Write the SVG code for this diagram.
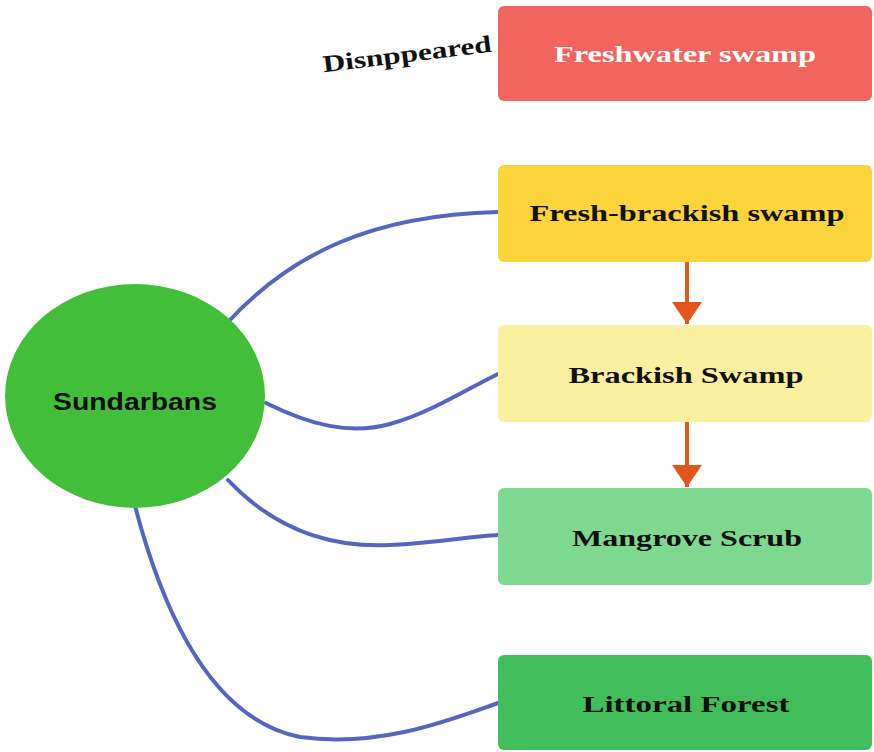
<svg xmlns="http://www.w3.org/2000/svg" width="874" height="752" viewBox="0 0 874 752">
<style>
.box{stroke:none}
.lbl{font-family:"Liberation Serif","Times New Roman",serif;font-weight:bold;font-size:24px;text-anchor:middle}
.conn{fill:none;stroke:#5566c2;stroke-width:4;stroke-linecap:round}
.arr{stroke:#e2561c;stroke-width:4;fill:none}
</style>
<defs>
<marker id="ah" markerWidth="6" markerHeight="8" refX="5.5" refY="3.75" orient="auto" markerUnits="strokeWidth">
<path d="M0,0 L5.5,3.75 L0,7.5 Z" fill="#e2561c"/>
</marker>
</defs>
<rect width="874" height="752" fill="#ffffff"/>
<g id="connectors">
<path class="conn" d="M228,322 C290,255 370,215 498,212"/>
<path class="conn" d="M266,403 C310,425 350,435 390,424 C430,413 465,390 498,374"/>
<path class="conn" d="M228,480 C275,530 330,548 390,545 C440,543 470,536 498,535"/>
<path class="conn" d="M135,506 C165,620 215,720 300,737 C380,748 450,720 498,703"/>
<path class="arr" d="M687,262 L687,324" marker-end="url(#ah)"/>
<path class="arr" d="M687,422 L687,487" marker-end="url(#ah)"/>
</g>
<g id="sundarbans">
<ellipse cx="135" cy="396" rx="130" ry="112" fill="#43be3b"/>
<text x="135" y="410" font-family="Liberation Sans, Arial, sans-serif" font-weight="bold" font-size="24" text-anchor="middle" textLength="164" lengthAdjust="spacingAndGlyphs" fill="#111">Sundarbans</text>
</g>
<g id="disappeared-label">
<text class="lbl" x="0" y="0" transform="translate(408,62) rotate(-7)" textLength="170" lengthAdjust="spacingAndGlyphs" fill="#111">Disnppeared</text>
</g>
<g id="freshwater">
<rect class="box" x="498" y="6" width="374" height="95" rx="6" fill="#f2655e"/>
<text class="lbl" x="685" y="62" textLength="262" lengthAdjust="spacingAndGlyphs" fill="#ffffff">Freshwater swamp</text>
</g>
<g id="fresh-brackish">
<rect class="box" x="498" y="165" width="374" height="97" rx="6" fill="#fbd33a"/>
<text class="lbl" x="687" y="221" textLength="315" lengthAdjust="spacingAndGlyphs" fill="#111">Fresh-brackish swamp</text>
</g>
<g id="brackish">
<rect class="box" x="498" y="325" width="374" height="97" rx="6" fill="#faef9e"/>
<text class="lbl" x="686" y="383" textLength="235" lengthAdjust="spacingAndGlyphs" fill="#111">Brackish Swamp</text>
</g>
<g id="mangrove">
<rect class="box" x="498" y="488" width="374" height="97" rx="6" fill="#7fd890"/>
<text class="lbl" x="687" y="546" textLength="230" lengthAdjust="spacingAndGlyphs" fill="#111">Mangrove Scrub</text>
</g>
<g id="littoral">
<rect class="box" x="498" y="655" width="374" height="95" rx="6" fill="#41bd5b"/>
<text class="lbl" x="686" y="712" textLength="207" lengthAdjust="spacingAndGlyphs" fill="#111">Littoral Forest</text>
</g>
</svg>
